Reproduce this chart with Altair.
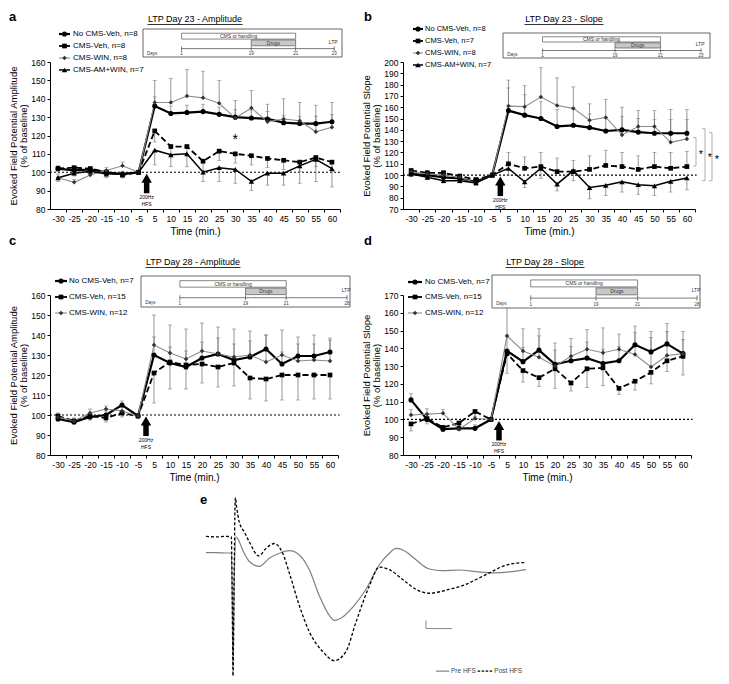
import altair as alt
import pandas as pd

FONT = "Liberation Sans"

TIME_LABELS = ["-30", "-25", "-20", "-15", "-10", "-5", "5", "10", "15",
               "20", "25", "30", "35", "40", "45", "50", "55", "60"]

# ---- Panel a: LTP Day 23 - Amplitude
A_NOCMS_VEH = [102, 101, 101.5, 100, 99, 100, 136, 132, 132.5, 133, 131.5, 130, 129.5, 129, 127, 126.5, 126.5, 127.5]
A_CMS_VEH = [102, 102.5, 102, 100, 98.5, 100, 122.5, 114, 114, 106, 111.5, 110, 109, 107.5, 106.5, 105.5, 108, 105.5]
A_CMS_WIN = [97, 94.5, 98.5, 101, 103.5, 100, 138, 138, 141.5, 140.5, 137.5, 129.5, 135, 127.5, 129, 128, 122, 124.5]
A_CMS_AMWIN = [97, 99.5, 100.5, 99, 99, 100, 112, 109.5, 110, 100, 102.5, 101.5, 95, 99.5, 99.5, 103.5, 107, 102]
A_NOCMS_VEH_ERR = [1.5, 1.5, 1.5, 1.5, 1.5, 0, 5, 4, 4, 4, 4, 4, 4, 4, 4, 4, 4, 4]
A_CMS_VEH_ERR = [1.5, 1.5, 1.5, 1.5, 1.5, 0, 6, 5, 5, 5, 5, 5, 5, 5, 5, 5, 5, 5]
A_CMS_WIN_ERR = [2, 1.5, 2, 1.5, 2, 0, 12, 13, 14.5, 14.5, 12.5, 9.5, 9.5, 9.5, 11, 10, 14.5, 13.5]
A_CMS_AMWIN_ERR = [2, 1.5, 2, 2, 2, 0, 8, 6.5, 7, 5, 7.5, 7.5, 5, 6.5, 6.5, 9.5, 12, 10]

# ---- Panel b: LTP Day 23 - Slope
B_NOCMS_VEH = [101, 100, 98, 97, 94, 100, 157, 153, 150, 143, 144, 142, 139, 140, 138, 137, 137, 137]
B_CMS_VEH = [104, 102, 102, 99, 96, 100, 110, 106, 107.5, 103, 103, 105, 108.5, 107.5, 105, 107.5, 106, 107.5]
B_CMS_WIN = [103, 101, 100, 98, 93, 100, 161, 160.5, 169, 161.5, 159, 148.5, 151, 135.5, 143, 143, 129, 132]
B_CMS_AMWIN = [101, 98, 95, 95, 93, 100, 106, 94, 106, 92, 104, 89, 91, 94, 91.5, 90.5, 94.5, 97.5]
B_NOCMS_VEH_ERR = [2, 2, 2, 2, 2, 0, 20, 18, 15, 15, 14, 12, 12, 12, 12, 12, 12, 12]
B_CMS_VEH_ERR = [2, 2, 2, 2, 2, 0, 10, 10, 12.5, 12, 10, 12, 13.5, 12.5, 12, 12.5, 14, 13.5]
B_CMS_WIN_ERR = [2, 2, 2, 2, 2, 0, 23, 18.5, 26, 24.5, 19, 14.5, 16, 24.5, 14, 14, 29, 26]
B_CMS_AMWIN_ERR = [2, 2, 2, 2, 2, 0, 6, 5, 9, 6, 9, 10, 9, 9, 8.5, 8.5, 9.5, 10.5]
B_BRACKETS_TOP = [133, 141, 137.5]
B_BRACKETS_BOTTOM = [108, 95, 95]

# ---- Panel c: LTP Day 28 - Amplitude
C_NOCMS_VEH = [98, 96.5, 99, 100, 105, 99.5, 130, 126, 124, 128.5, 130.5, 127.5, 129, 133, 125.5, 129.5, 129.5, 131.5]
C_CMS_VEH = [99.5, 97, 99.5, 98.5, 101, 99.5, 121, 126.5, 125, 125.5, 124, 126, 118.5, 118, 120, 120, 120, 120]
C_CMS_WIN = [99, 97, 101, 103, 102, 99.5, 135, 131, 128, 132, 130.5, 129, 130, 126.5, 130, 127, 127.5, 127]
C_NOCMS_VEH_ERR = [2, 1.5, 2, 2, 2, 0, 9, 8, 8, 8, 8, 8, 8, 7, 6, 6, 6, 6]
C_CMS_VEH_ERR = [2, 1.5, 2, 2, 2, 0, 15, 13.5, 12, 9.5, 10, 11.5, 10.5, 11, 12.5, 12.5, 12, 12]
C_CMS_WIN_ERR = [2, 1.5, 2, 1.5, 2, 0, 15, 14, 15, 14, 13.5, 14, 12, 13.5, 12.5, 12, 12.5, 11.5]

# ---- Panel d: LTP Day 28 - Slope
D_NOCMS_VEH = [111, 100, 94.5, 95, 95, 100, 138.5, 132.5, 139, 131, 133, 134.5, 131.5, 133, 142, 138, 142.5, 137]
D_CMS_VEH = [97.5, 100.5, 95.5, 98, 104.5, 100, 137, 127.5, 123.5, 128.5, 120.5, 128.5, 129, 117.5, 121.5, 126.5, 133, 135.5]
D_CMS_WIN = [102.5, 103, 103.5, 94.5, 100.5, 100, 147, 138.5, 135, 130, 135.5, 139.5, 137.5, 139.5, 136.5, 129.5, 136, 137]
D_NOCMS_VEH_ERR = [3.5, 2, 2, 2, 2, 0, 9, 8, 8, 8, 8, 9, 8, 8, 7, 8, 7, 8]
D_CMS_VEH_ERR = [4, 3, 2, 3, 3, 0, 11, 6.5, 5, 11, 4.5, 10.5, 10, 3.5, 5, 6.5, 6, 10.5]
D_CMS_WIN_ERR = [3, 3, 2, 3, 3, 0, 20, 12.5, 16, 13, 10, 11, 14, 8.5, 16, 20, 18, 12.5]

# ---- Panel e: evoked field potential traces (time units, mV-like units)
PRE_T = [0, 0.3, 0.6, 0.76, 0.79, 0.81, 0.85, 0.9, 0.95, 1.1, 1.3, 1.6, 1.9, 2.2, 2.5, 2.8, 3.1,
         3.4, 3.7, 3.85, 4.1, 4.4, 4.8, 5.2, 5.5, 5.7, 6.0, 6.3, 6.7, 7.1, 7.6, 8.1, 8.6, 9.1, 9.6]
PRE_V = [0, 0, -0.01, -0.01, -1.62, -3.52, -0.62, 0.48, 0.43, 0.08, -0.27, -0.42, -0.17, -0.02,
         0.06, -0.07, -0.52, -1.32, -1.92, -2.07, -1.97, -1.67, -1.12, -0.37, -0.02, 0.13, 0.03,
         -0.22, -0.5, -0.55, -0.53, -0.58, -0.62, -0.59, -0.52]
POST_T = [0, 0.3, 0.6, 0.76, 0.79, 0.81, 0.84, 0.88, 0.92, 1.0, 1.15, 1.3, 1.58, 1.8, 2.05, 2.3,
          2.5, 2.8, 3.1, 3.5, 3.85, 4.2, 4.5, 4.9, 5.2, 5.5, 5.9, 6.3, 6.7, 7.3, 7.8, 8.1, 8.5,
          8.9, 9.3, 9.6]
POST_V = [0.5, 0.48, 0.5, 0.48, -1.62, -3.77, -1.12, 1.68, 1.38, 0.93, 0.63, 0.33, -0.1, 0.13,
          0.28, -0.02, -0.62, -1.62, -2.42, -3.02, -3.3, -3.02, -2.12, -1.02, -0.44, -0.52, -0.82,
          -1.12, -1.24, -1.12, -0.97, -0.82, -0.62, -0.42, -0.32, -0.3]
SCALE_BAR_T = [6.6, 7.38]
SCALE_BAR_V = [-2.07, -2.32]

STYLE = {
    "No CMS-Veh": dict(color="black", width=2.2, dash=None, shape="circle", size=26, mcolor="black"),
    "CMS-Veh": dict(color="black", width=1.8, dash=[6, 3], shape="square", size=22, mcolor="black"),
    "CMS-WIN": dict(color="#8c8c8c", width=1.1, dash=None, shape="diamond", size=20, mcolor="#333333"),
    "CMS-AM+WIN": dict(color="black", width=1.5, dash=None, shape="triangle-up", size=30, mcolor="black"),
}

ONE = pd.DataFrame({"k": [0]})
ERR_COLOR = "#7a7a7a"


def series_df(vals, errs, direction):
    rows = []
    for i, (v, e) in enumerate(zip(vals, errs)):
        lo, hi = (v, v + e) if direction > 0 else (v - e, v)
        rows.append({"idx": i, "time": TIME_LABELS[i], "val": v, "lo": lo, "hi": hi,
                     "cap": hi if direction > 0 else lo, "err": e})
    return pd.DataFrame(rows)


def text_px(txt, x, y, size, **kw):
    return alt.Chart(ONE).mark_text(text=txt, fontSize=size, font=FONT, **kw).encode(
        x=alt.value(x), y=alt.value(y))


def rule_px(x1, y1, x2, y2, **kw):
    return alt.Chart(ONE).mark_rule(**kw).encode(
        x=alt.value(x1), y=alt.value(y1), x2=alt.value(x2), y2=alt.value(y2))


def rect_px(x1, y1, x2, y2, **kw):
    return alt.Chart(ONE).mark_rect(**kw).encode(
        x=alt.value(x1), y=alt.value(y1), x2=alt.value(x2), y2=alt.value(y2))


def inset_layers(box, f, last):
    bx0, bx1, by0, by1 = box
    w, h = bx1 - bx0, by1 - by0
    X = lambda q: bx0 + q * w
    Y = lambda q: by0 + q * h
    f1, f19, f21, fend = f
    out = [
        rect_px(bx0, by0, bx1, by1, fill="white", stroke="#555555", strokeWidth=0.9),
        rect_px(X(f1), Y(0.15), X(f21), Y(0.36), fill="white", stroke="#555555", strokeWidth=0.7),
        text_px("CMS or handling", (X(f1) + X(f21)) / 2, Y(0.255), 5, color="#333333", baseline="middle"),
        rect_px(X(f19), Y(0.39), X(f21), Y(0.6), fill="#c8c8c8", stroke="#555555", strokeWidth=0.7),
        text_px("Drugs", (X(f19) + X(f21)) / 2, Y(0.495), 5, color="#333333", baseline="middle"),
        rule_px(X(f1), Y(0.7), X(fend), Y(0.7), color="#444444", strokeWidth=0.7),
        text_px("Days", X(0.02), Y(0.88), 4.5, color="#333333", align="left", baseline="middle"),
        text_px("LTP", X(fend) - 1, Y(0.45), 5, color="#333333", align="center", baseline="middle"),
    ]
    for q, lab in zip(f, ["1", "19", "21", last]):
        out.append(rule_px(X(q), Y(0.62), X(q), Y(0.78), color="#444444", strokeWidth=0.7))
        out.append(text_px(lab, X(q), Y(0.9), 4.5, color="#333333", baseline="middle"))
    return out


def legend_layers(entries, rows, lx1, lx2, tx, fsize):
    out = []
    for (name, n), yy in zip(entries, rows):
        st = STYLE[name]
        kw = dict(color=st["color"], strokeWidth=st["width"])
        out.append(rule_px(lx1, yy, lx2, yy, **kw))
        out.append(alt.Chart(ONE).mark_point(shape=st["shape"], filled=True, size=st["size"],
                                             color=st["mcolor"], opacity=1).encode(
            x=alt.value((lx1 + lx2) / 2), y=alt.value(yy)))
        out.append(text_px(f"{name}, n={n}", tx, yy, fsize, align="left", baseline="middle",
                           color="black"))
    return out


def build_panel(cfg):
    W, H = cfg["W"], cfg["H"]
    ylo, yhi = cfg["ydom"]
    xs = alt.Scale(domain=[-0.5, 17.5], nice=False, zero=False)
    ys = alt.Scale(domain=[ylo, yhi], nice=False, zero=False)
    half = W / 36.0
    label_expr = "[" + ",".join("'%s'" % t for t in TIME_LABELS) + "][datum.value]"
    x_axis = alt.Axis(values=list(range(18)), labelExpr=label_expr, tickOffset=half,
                      labelOffset=-half, title="Time (min.)", titleFontSize=10, titlePadding=4,
                      labelPadding=2, tickSize=3, labelFontSize=8.5)
    y_axis = alt.Axis(values=list(range(ylo, yhi + 1, 10)),
                      title=[cfg["ytitle"], "(% of baseline)"], titlePadding=2, labelPadding=2,
                      tickSize=3, titleFontSize=9.5, titleLineHeight=10.5, labelFontSize=8.5)
    X = lambda f: alt.X(f, type="quantitative", scale=xs, axis=x_axis)
    Y = lambda f: alt.Y(f, type="quantitative", scale=ys, axis=y_axis)
    XD = lambda v: alt.XDatum(v, scale=xs, axis=x_axis)
    YD = lambda v: alt.YDatum(v, scale=ys, axis=y_axis)
    dfs = []
    for name, n, vals, errs, direction in cfg["series"]:
        dfs.append((name, series_df(vals, errs, direction)))
    layers = [
        alt.Chart(dfs[0][1]).mark_point(opacity=0).encode(x=X("idx"), y=Y("val")),
        alt.Chart(ONE).mark_rule(color="black", strokeDash=[2, 2], strokeWidth=1.2).encode(
            x=XD(-0.5), x2=alt.X2Datum(17.6), y=YD(100))
    ]
    for name, df in dfs:
        sub = df[df["err"] > 0]
        layers.append(alt.Chart(sub).mark_rule(color=ERR_COLOR, strokeWidth=0.8).encode(
            x=X("idx"), y=Y("lo"), y2="hi:Q"))
        layers.append(alt.Chart(sub).mark_tick(color=ERR_COLOR, orient="horizontal", size=4,
                                               thickness=0.8).encode(x=X("idx"), y=Y("cap")))
    for name, df in dfs:
        st = STYLE[name]
        kw = dict(color=st["color"], strokeWidth=st["width"])
        if st["dash"]:
            kw["strokeDash"] = st["dash"]
        layers.append(alt.Chart(df).mark_line(**kw).encode(x=X("idx"), y=Y("val")))
    for name, df in dfs:
        st = STYLE[name]
        layers.append(alt.Chart(df).mark_point(shape=st["shape"], filled=True, size=st["size"],
                                               color=st["mcolor"], opacity=1).encode(
            x=X("idx"), y=Y("val")))
    # HFS arrow between -5 and 5
    layers.append(alt.Chart(ONE).mark_rule(color="black", strokeWidth=5.5, yOffset=9,
                                           y2Offset=21).encode(x=XD(5.5), y=YD(100), y2=alt.Y2Datum(100)))
    layers.append(alt.Chart(ONE).mark_point(shape="triangle-up", filled=True, size=110,
                                            color="black", opacity=1, yOffset=6).encode(x=XD(5.5), y=YD(100)))
    layers.append(alt.Chart(ONE).mark_text(text="200Hz", fontSize=5, font=FONT, dy=25,
                                           baseline="middle", color="black").encode(x=XD(5.5), y=YD(100)))
    layers.append(alt.Chart(ONE).mark_text(text="HFS", fontSize=5, font=FONT, dy=32,
                                           baseline="middle", color="black").encode(x=XD(5.5), y=YD(100)))
    # extras
    for (ix, val, size) in cfg.get("stars", []):
        layers.append(alt.Chart(ONE).mark_text(text="*", fontSize=size, font=FONT, color="black",
                                               baseline="alphabetic", dy=size * 0.58).encode(
            x=XD(ix), y=YD(val)))
    for k, (top, bot) in enumerate(zip(cfg.get("br_top", []), cfg.get("br_bot", []))):
        bx = W + cfg["br_x"][k]
        for yy in (top, bot):
            layers.append(alt.Chart(ONE).mark_rule(color="#999999", strokeWidth=0.8).encode(
                x=alt.value(bx - 3), x2=alt.value(bx), y=YD(yy)))
        layers.append(alt.Chart(ONE).mark_rule(color="#999999", strokeWidth=0.8).encode(
            x=alt.value(bx), y=YD(top), y2=alt.Y2Datum(bot)))
        layers.append(alt.Chart(ONE).mark_text(text="*", fontSize=11, font=FONT, color="black",
                                               baseline="alphabetic", dy=6).encode(
            x=alt.value(bx + 5), y=YD((top + bot) / 2)))
    # legend, inset, title, letter
    entries = [(s[0], s[1]) for s in cfg["series"]]
    lx1, lx2, tx = cfg["legend_x"]
    layers += legend_layers(entries, cfg["legend_rows"], lx1, lx2, tx, cfg["legend_font"])
    layers += inset_layers(cfg["inset_box"], cfg["inset_f"], cfg["inset_last"])
    tcx, tcy = cfg["title_xy"]
    layers.append(text_px(cfg["title"], tcx, tcy, 9, align="center", baseline="middle",
                          color="black"))
    layers.append(rule_px(tcx - cfg["uw"] / 2, tcy + 5.5, tcx + cfg["uw"] / 2, tcy + 5.5,
                          color="black", strokeWidth=0.8))
    lx, ly = cfg["letter_xy"]
    layers.append(text_px(cfg["letter"], lx, ly, 13, fontWeight="bold", align="left",
                          baseline="middle", color="black"))
    return alt.layer(*layers).properties(width=W, height=H)


PANELS = [
    dict(letter="a", title="LTP Day 23 - Amplitude", uw=95, W=290, H=147, ydom=(80, 160),
         ytitle="Evoked Field Potential Amplitude",
         series=[("No CMS-Veh", 8, A_NOCMS_VEH, A_NOCMS_VEH_ERR, 1),
                 ("CMS-Veh", 8, A_CMS_VEH, A_CMS_VEH_ERR, -1),
                 ("CMS-WIN", 8, A_CMS_WIN, A_CMS_WIN_ERR, 1),
                 ("CMS-AM+WIN", 7, A_CMS_AMWIN, A_CMS_AMWIN_ERR, -1)],
         letter_xy=(-41, -45), title_xy=(145, -43), legend_rows=[-28, -16, -4, 8],
         legend_x=(9, 20, 23), legend_font=8, inset_box=(93, 292, -33, -5),
         inset_f=(0.194, 0.544, 0.767, 0.961), inset_last="23", stars=[(11, 120, 14)]),
    dict(letter="b", title="LTP Day 23 - Slope", uw=79, W=292, H=147, ydom=(70, 200),
         ytitle="Evoked Field Potential Slope",
         series=[("No CMS-Veh", 8, B_NOCMS_VEH, B_NOCMS_VEH_ERR, 1),
                 ("CMS-Veh", 7, B_CMS_VEH, B_CMS_VEH_ERR, 1),
                 ("CMS-WIN", 8, B_CMS_WIN, B_CMS_WIN_ERR, 1),
                 ("CMS-AM+WIN", 7, B_CMS_AMWIN, B_CMS_AMWIN_ERR, -1)],
         letter_xy=(-39, -45), title_xy=(161, -43), legend_rows=[-33, -21, -9, 3],
         legend_x=(10, 20, 22), legend_font=7.5, inset_box=(100, 307, -29, -4),
         inset_f=(0.191, 0.541, 0.761, 0.957), inset_last="23",
         br_top=B_BRACKETS_TOP, br_bot=B_BRACKETS_BOTTOM, br_x=[1, 10, 17]),
    dict(letter="c", title="LTP Day 28 - Amplitude", uw=95, W=288, H=160, ydom=(80, 160),
         ytitle="Evoked Field Potential Amplitude",
         series=[("No CMS-Veh", 7, C_NOCMS_VEH, C_NOCMS_VEH_ERR, 1),
                 ("CMS-Veh", 15, C_CMS_VEH, C_CMS_VEH_ERR, -1),
                 ("CMS-WIN", 12, C_CMS_WIN, C_CMS_WIN_ERR, 1)],
         letter_xy=(-41, -54), title_xy=(143, -33), legend_rows=[-14, 2, 18],
         legend_x=(5, 17, 19), legend_font=8, inset_box=(91, 300, -19, 12),
         inset_f=(0.186, 0.5, 0.695, 0.986), inset_last="28"),
    dict(letter="d", title="LTP Day 28 - Slope", uw=79, W=288, H=160, ydom=(80, 170),
         ytitle="Evoked Field Potential Slope",
         series=[("No CMS-Veh", 7, D_NOCMS_VEH, D_NOCMS_VEH_ERR, 1),
                 ("CMS-Veh", 15, D_CMS_VEH, D_CMS_VEH_ERR, -1),
                 ("CMS-WIN", 12, D_CMS_WIN, D_CMS_WIN_ERR, 1)],
         letter_xy=(-39, -54), title_xy=(142, -33), legend_rows=[-13, 2, 18],
         legend_x=(5, 19, 22), legend_font=8, inset_box=(89, 297, -20, 13),
         inset_f=(0.186, 0.5, 0.7, 0.986), inset_last="28"),
]


def build_traces():
    xs = alt.Scale(domain=[-4.68, 4.02], nice=False, zero=False)
    ys = alt.Scale(domain=[-3.8, 0.356], nice=False, zero=False)
    pre = pd.DataFrame({"t": PRE_T, "v": PRE_V})
    post = pd.DataFrame({"t": POST_T, "v": POST_V})
    X = alt.X("t:Q", scale=xs, axis=None)
    Y = alt.Y("v:Q", scale=ys, axis=None)
    layers = [
        alt.Chart(pre).mark_line(color="#808080", strokeWidth=1.2, interpolate="monotone").encode(x=X, y=Y),
        alt.Chart(post).mark_line(color="black", strokeWidth=1.3, strokeDash=[3, 2],
                                  interpolate="monotone").encode(x=X, y=Y),
        alt.Chart(ONE).mark_rule(color="#888888", strokeWidth=1).encode(
            x=alt.XDatum(SCALE_BAR_T[0], scale=xs, axis=None),
            y=alt.YDatum(SCALE_BAR_V[0], scale=ys, axis=None),
            y2=alt.Y2Datum(SCALE_BAR_V[1])),
        alt.Chart(ONE).mark_rule(color="#888888", strokeWidth=1).encode(
            x=alt.XDatum(SCALE_BAR_T[0], scale=xs, axis=None), x2=alt.X2Datum(SCALE_BAR_T[1]),
            y=alt.YDatum(SCALE_BAR_V[1], scale=ys, axis=None)),
        alt.Chart(ONE).mark_rule(color="#808080", strokeWidth=1.2).encode(
            x=alt.XDatum(6.9, scale=xs, axis=None), x2=alt.X2Datum(7.3),
            y=alt.YDatum(-3.62, scale=ys, axis=None)),
        alt.Chart(ONE).mark_text(text="Pre HFS", fontSize=6.5, font=FONT, align="left",
                                 baseline="middle", color="#444444").encode(
            x=alt.XDatum(7.35, scale=xs, axis=None), y=alt.YDatum(-3.62, scale=ys, axis=None)),
        alt.Chart(ONE).mark_rule(color="black", strokeWidth=1.2, strokeDash=[2.5, 1.5]).encode(
            x=alt.XDatum(8.15, scale=xs, axis=None), x2=alt.X2Datum(8.6),
            y=alt.YDatum(-3.62, scale=ys, axis=None)),
        alt.Chart(ONE).mark_text(text="Post HFS", fontSize=6.5, font=FONT, align="left",
                                 baseline="middle", color="#444444").encode(
            x=alt.XDatum(8.65, scale=xs, axis=None), y=alt.YDatum(-3.62, scale=ys, axis=None)),
        text_px("e", 150, -41, 13, fontWeight="bold", align="left", baseline="middle",
                color="black"),
    ]
    return alt.layer(*layers).properties(width=290, height=136)


charts = [build_panel(c) for c in PANELS] + [build_traces()]
chart = alt.concat(*charts, columns=2, spacing={"row": 86, "column": 63},
                   bounds="flush").properties(
    padding={"left": 0, "top": 3, "right": 0, "bottom": 0}
).configure_view(stroke=None).configure_axis(
    labelFont=FONT, titleFont=FONT, titleFontWeight="normal", domainColor="black",
    tickColor="black", labelColor="black", titleColor="black", grid=False, domainWidth=1
)

chart.save("out.html", embed_options={"renderer": "svg", "actions": False})
